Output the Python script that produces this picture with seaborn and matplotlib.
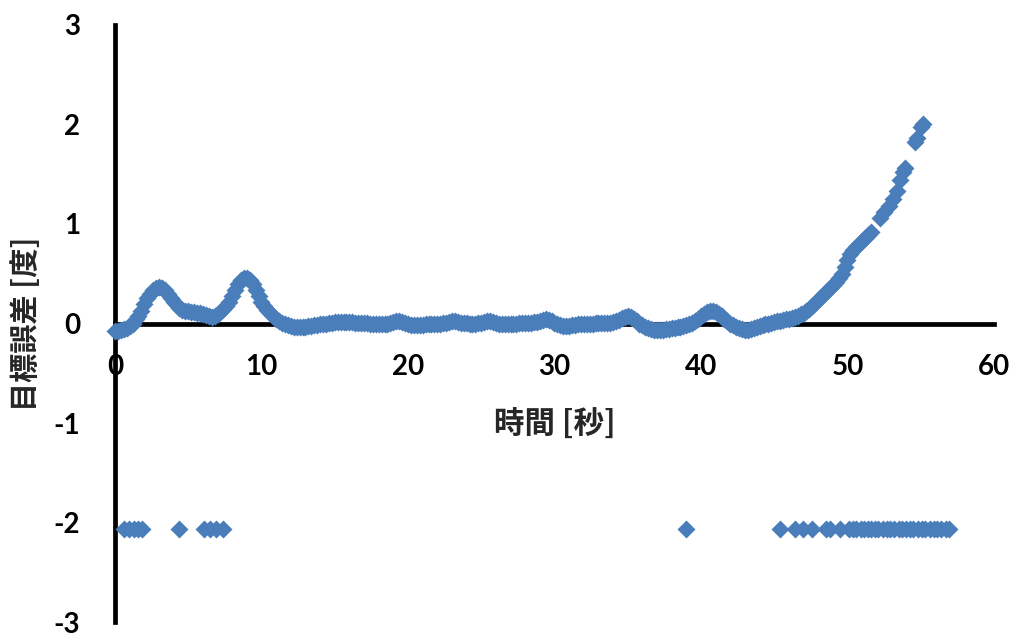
import numpy as np
import pandas as pd
import matplotlib
matplotlib.use("Agg")
import matplotlib.pyplot as plt
import seaborn as sns

# ---- data ----
curve_t = [
    0.0, 0.4, 0.8, 1.2, 1.6, 2.0, 2.4, 2.8, 3.2, 3.6, 4.0, 4.4, 4.8, 5.2, 5.6, 6.0,
    6.4, 6.8, 7.2, 7.6, 8.0, 8.4, 8.8, 9.2, 9.6, 10.0, 10.4, 10.8, 11.2, 11.6, 12.0,
    12.4, 12.8, 13.2, 13.6, 14.0, 14.4, 14.8, 15.2, 15.6, 16.0, 16.4, 16.8, 17.2,
    17.6, 18.0, 18.4, 18.8, 19.2, 19.6, 20.0, 20.4, 20.8, 21.2, 21.6, 22.0, 22.4,
    22.8, 23.2, 23.6, 24.0, 24.4, 24.8, 25.2, 25.6, 26.0, 26.4, 26.8, 27.2, 27.6,
    28.0, 28.4, 28.8, 29.2, 29.6, 30.0, 30.4, 30.8, 31.2, 31.6, 32.0, 32.4, 32.8,
    33.2, 33.6, 34.0, 34.4, 34.8, 35.2, 35.6, 36.0, 36.4, 36.8, 37.2, 37.6, 38.0,
    38.4, 38.8, 39.2, 39.6, 40.0, 40.4, 40.8, 41.2, 41.6, 42.0, 42.4, 42.8, 43.2,
    43.6, 44.0, 44.4, 44.8, 45.2, 45.6, 46.0, 46.4, 46.8, 47.2, 47.6, 48.0, 48.4,
    48.8, 49.2, 49.6, 50.0, 50.4, 50.8, 51.2, 51.6,
    52.2, 52.5, 52.8, 53.1, 53.35, 53.6, 53.8, 53.9, 54.6, 54.75, 55.0, 55.15,
]
curve_err = [
    -0.08, -0.07, -0.05, 0.00, 0.08, 0.20, 0.30, 0.36, 0.36, 0.30, 0.22, 0.16, 0.13,
    0.12, 0.11, 0.10, 0.08, 0.08, 0.12, 0.18, 0.28, 0.40, 0.46, 0.44, 0.34, 0.22,
    0.14, 0.08, 0.03, -0.01, -0.03, -0.04, -0.04, -0.03, -0.02, -0.01, 0.00, 0.01,
    0.02, 0.02, 0.02, 0.01, 0.01, 0.01, 0.00, 0.00, -0.01, 0.01, 0.03, 0.02, -0.01,
    -0.02, -0.02, -0.01, -0.01, 0.00, 0.01, 0.02, 0.03, 0.01, 0.01, 0.00, 0.01, 0.02,
    0.03, 0.01, 0.00, 0.00, 0.00, 0.01, 0.01, 0.01, 0.02, 0.04, 0.04, 0.01, -0.02,
    -0.03, -0.02, -0.01, -0.01, 0.00, 0.01, 0.01, 0.01, 0.02, 0.04, 0.07, 0.07, 0.03,
    -0.02, -0.05, -0.07, -0.07, -0.06, -0.05, -0.04, -0.03, -0.01, 0.03, 0.08, 0.12,
    0.13, 0.10, 0.05, 0.00, -0.04, -0.06, -0.07, -0.05, -0.03, -0.01, 0.01, 0.03,
    0.04, 0.05, 0.07, 0.10, 0.13, 0.18, 0.24, 0.30, 0.36, 0.42, 0.50, 0.64, 0.74,
    0.80, 0.86, 0.92,
    1.06, 1.12, 1.18, 1.25, 1.33, 1.44, 1.52, 1.56, 1.82, 1.86, 1.97, 2.00,
]
# further readings between the samples above (time, error)
curve_mid = [
    (0.2, -0.08), (0.6, -0.06), (1.0, -0.03), (1.4, 0.05), (1.8, 0.13),
    (2.2, 0.26), (2.6, 0.34), (3.0, 0.37), (3.4, 0.34), (3.8, 0.26),
    (4.2, 0.19), (4.6, 0.14), (5.0, 0.13), (5.4, 0.12), (5.8, 0.11),
    (6.2, 0.09), (6.6, 0.07), (7.0, 0.10), (7.4, 0.15), (7.8, 0.22),
    (8.2, 0.34), (8.6, 0.44), (9.0, 0.46), (9.4, 0.40), (9.8, 0.28),
    (10.2, 0.18), (10.6, 0.11), (11.0, 0.05), (11.4, 0.01), (11.8, -0.02),
    (12.2, -0.04), (12.6, -0.04), (13.0, -0.04), (13.4, -0.03), (13.8, -0.02),
    (14.2, -0.01), (14.6, 0.01), (15.0, 0.02), (15.4, 0.02), (15.8, 0.02),
    (16.2, 0.02), (16.6, 0.01), (17.0, 0.01), (17.4, 0.00), (17.8, 0.00),
    (18.2, -0.01), (18.6, 0.00), (19.0, 0.02), (19.4, 0.03), (19.8, 0.01),
    (20.2, -0.02), (20.6, -0.02), (21.0, -0.02), (21.4, -0.01), (21.8, 0.00),
    (22.2, 0.00), (22.6, 0.01), (23.0, 0.03), (23.4, 0.02), (23.8, 0.01),
    (24.2, 0.00), (24.6, 0.00), (25.0, 0.01), (25.4, 0.03), (25.8, 0.02),
    (26.2, 0.00), (26.6, 0.00), (27.0, 0.00), (27.4, 0.00), (27.8, 0.01),
    (28.2, 0.01), (28.6, 0.02), (29.0, 0.03), (29.4, 0.05), (29.8, 0.03),
    (30.2, -0.01), (30.6, -0.03), (31.0, -0.03), (31.4, -0.02), (31.8, -0.01),
    (32.2, 0.00), (32.6, 0.00), (33.0, 0.01), (33.4, 0.01), (33.8, 0.01),
    (34.2, 0.03), (34.6, 0.06), (35.0, 0.08), (35.4, 0.05), (35.8, 0.00),
    (36.2, -0.04), (36.6, -0.06), (37.0, -0.07), (37.4, -0.07), (37.8, -0.06),
    (38.2, -0.05), (38.6, -0.04), (39.0, -0.02), (39.4, 0.01), (39.8, 0.05),
    (40.2, 0.10), (40.6, 0.13), (41.0, 0.12), (41.4, 0.08), (41.8, 0.03),
    (42.2, -0.02), (42.6, -0.05), (43.0, -0.07), (43.4, -0.06), (43.8, -0.04),
    (44.2, -0.02), (44.6, 0.00), (45.0, 0.02), (45.4, 0.03), (45.8, 0.05),
    (46.2, 0.06), (46.6, 0.08), (47.0, 0.11), (47.4, 0.15), (47.8, 0.21),
    (48.2, 0.27), (48.6, 0.33), (49.0, 0.39), (49.4, 0.46), (49.8, 0.57),
    (50.2, 0.70), (50.6, 0.77), (51.0, 0.83), (51.4, 0.89),
]
lost_t = [
    0.6, 0.95, 1.3, 1.6, 1.85, 4.35, 6.1, 6.5, 6.9, 7.4,
    39.0, 45.4, 46.4, 46.95, 47.6, 48.55, 48.8, 49.5,
    50.1, 50.4, 50.6, 50.9, 51.1, 51.4, 51.6, 51.9, 52.1, 52.4, 52.7, 52.9, 53.2,
    53.5, 53.7, 54.0, 54.3, 54.5, 54.8, 55.1, 55.3, 55.6, 55.9, 56.1, 56.4, 56.7, 56.9,
]
lost_err = [-2.07] * len(lost_t)

x_ticks = [0, 10, 20, 30, 40, 50, 60]
y_ticks = [-3, -2, -1, 0, 1, 2, 3]
x_label = "時間 [秒]"
y_label = "目標誤差 [度]"

df = pd.DataFrame({
    "t": curve_t + [p[0] for p in curve_mid] + lost_t,
    "err": curve_err + [p[1] for p in curve_mid] + lost_err,
})

sns.set_style("white")
plt.rcParams["font.family"] = ["Lato", "Noto Sans CJK JP", "DejaVu Sans"]

fig = plt.figure(figsize=(10.15, 6.37), dpi=100)
ax = fig.add_axes([0.1133, 0.0235, 0.866, 0.9373])

sns.scatterplot(data=df, x="t", y="err", ax=ax, marker="D", s=84,
                color="#4A7EBB", linewidth=0, clip_on=False, zorder=5,
                legend=False)

ax.set_xlim(0, 60)
ax.set_ylim(-3, 3)
ax.set_xticks(x_ticks)
ax.set_yticks(y_ticks)
ax.set_xticklabels([str(v) for v in x_ticks])
ax.set_yticklabels([str(v) for v in y_ticks])

for s in ["top", "right"]:
    ax.spines[s].set_visible(False)
ax.spines["left"].set_position(("data", 0))
ax.spines["bottom"].set_position(("data", 0))
for s in ["left", "bottom"]:
    ax.spines[s].set_linewidth(3.4)
    ax.spines[s].set_color("black")
    ax.spines[s].set_zorder(3)

ax.tick_params(axis="x", direction="out", length=7, width=3, pad=15,
               labelsize=20, colors="black")
ax.tick_params(axis="y", direction="in", length=6, width=3, pad=25,
               labelsize=20, colors="black")
for lab in ax.get_xticklabels() + ax.get_yticklabels():
    lab.set_fontweight("bold")

ax.set_xlabel(x_label, fontsize=22, fontweight="bold", labelpad=21,
              family=["Noto Sans CJK JP", "DejaVu Sans"])
ax.set_ylabel(y_label, fontsize=21, fontweight="bold", labelpad=9,
              family=["Noto Sans CJK JP", "DejaVu Sans"])
ax.grid(False)
ax.set_facecolor("white")

fig.savefig("out.png", dpi=100, facecolor="white")
